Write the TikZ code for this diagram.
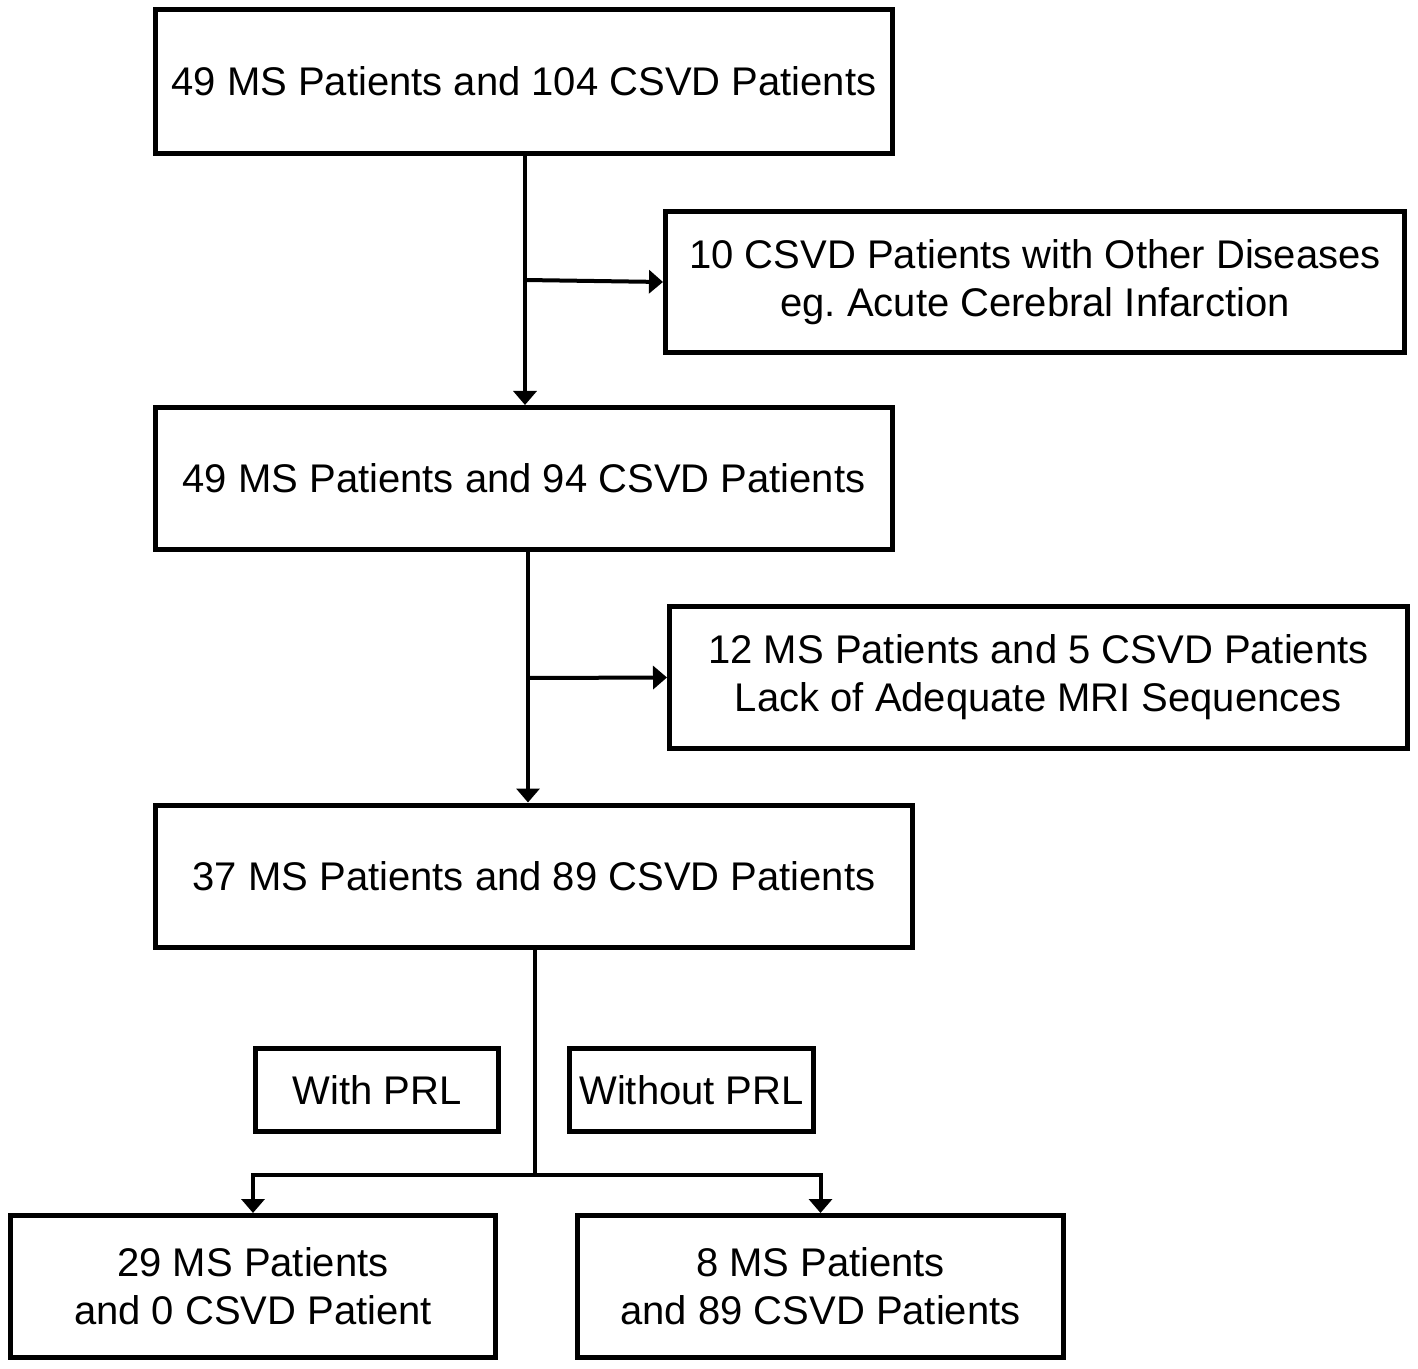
\documentclass[tikz,border=0pt]{standalone}
\usepackage{fontspec}
\setmainfont{Liberation Sans}
\usetikzlibrary{arrows.meta}

\begin{document}
\begin{tikzpicture}[x=0.5pt,y=-0.5pt,
  box/.style={draw,line width=2.5pt,align=center,inner sep=0pt,font=\fontsize{20}{24}\selectfont},
  twoline/.style={box,execute at begin node={\rule{0pt}{19pt}}},
  conn/.style={line width=2pt},
  arr/.style={conn,-{Triangle[width=11.5pt,length=7pt]}}]

\useasboundingbox (0,0) rectangle (1418,1369);

\node[box,minimum width=368.5pt,minimum height=72pt] (all) at (524,81.5) {49 MS Patients and 104 CSVD Patients};
\node[twoline,minimum width=369.5pt,minimum height=70.5pt] (excl1) at (1035,282) {10 CSVD Patients with Other Diseases\\eg.\ Acute Cerebral Infarction};
\node[box,minimum width=368.5pt,minimum height=71pt] (filtered) at (524,478.5) {49 MS Patients and 94 CSVD Patients};
\node[twoline,minimum width=369pt,minimum height=71pt] (excl2) at (1038.5,677.5) {12 MS Patients and 5 CSVD Patients\\Lack of Adequate MRI Sequences};
\node[box,minimum width=378.5pt,minimum height=71pt] (adequate) at (534,876) {37 MS Patients and 89 CSVD Patients};

\node[box,minimum width=121.5pt,minimum height=41.5pt] (withprl) at (377,1090) {With PRL};
\node[box,minimum width=122pt,minimum height=41.5pt] (withoutprl) at (691.5,1090) {Without PRL};

\node[twoline,minimum width=242.5pt,minimum height=71pt] (prlpos) at (253,1286.5) {29 MS Patients\\and 0 CSVD Patient};
\node[twoline,minimum width=243pt,minimum height=71pt] (prlneg) at (820.5,1286.5) {8 MS Patients\\and 89 CSVD Patients};

% exclusion steps
\coordinate (b1) at (525,280);
\coordinate (b2) at (528,678);
\draw[arr] (all.south -| b1) -- (b1 |- filtered.north);
\draw[arr] (b1) -- (excl1.west);
\draw[arr] (filtered.south -| b2) -- (b2 |- adequate.north);
\draw[arr] (b2) -- (excl2.west);

% split by PRL
\coordinate (split) at (535,1175);
\draw[conn] (adequate.south -| split) -- (split);
\draw[arr] (split) -| (prlpos.north);
\draw[arr] (split) -| (prlneg.north);
\end{tikzpicture}
\end{document}
